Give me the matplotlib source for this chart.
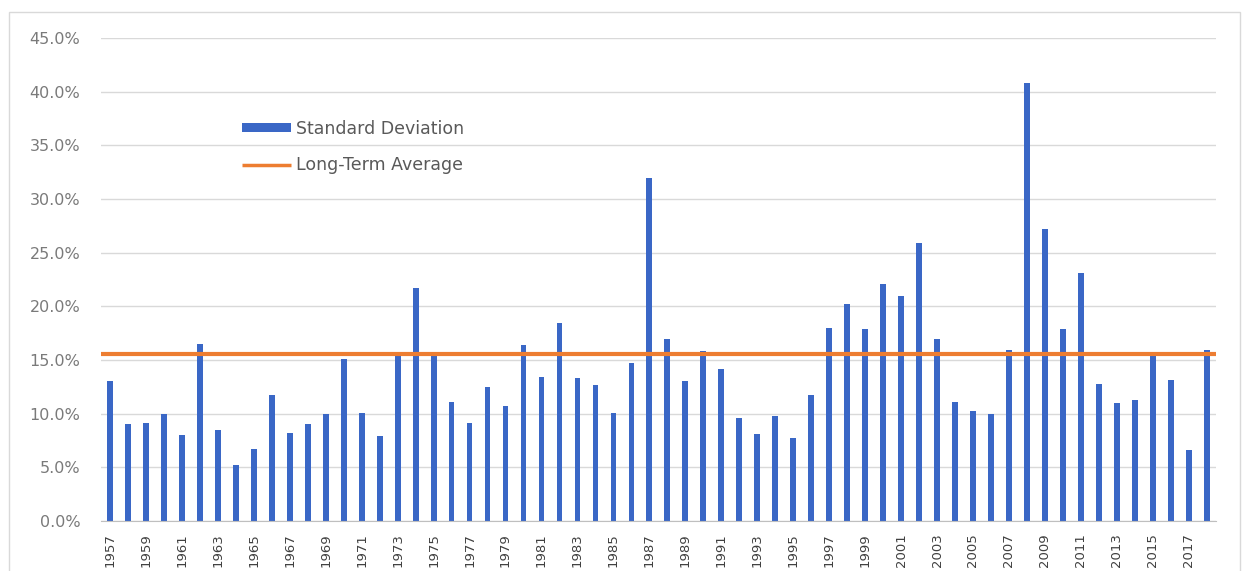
import matplotlib.pyplot as plt
import numpy as np
from matplotlib.patches import Rectangle
from matplotlib.ticker import PercentFormatter

years = list(range(1957, 2019))
std_dev = [13.0, 9.0, 9.1, 10.0, 8.0, 16.5, 8.5, 5.2, 6.7, 11.7,
           8.2, 9.0, 10.0, 15.1, 10.1, 7.9, 15.4, 21.7, 15.4, 11.1,
           9.1, 12.5, 10.7, 16.4, 13.4, 18.4, 13.3, 12.7, 10.1, 14.7,
           32.0, 17.0, 13.0, 15.8, 14.2, 9.6, 8.1, 9.8, 7.7, 11.7,
           18.0, 20.2, 17.9, 22.1, 21.0, 25.9, 17.0, 11.1, 10.2, 10.0,
           15.9, 40.8, 27.2, 17.9, 23.1, 12.8, 11.0, 11.3, 15.4, 13.1,
           6.6, 15.9]
long_term_avg = 15.6

plt.rcParams['font.family'] = ['DejaVu Sans']

fig = plt.figure(figsize=(12.43, 5.71), dpi=100)
ax = fig.add_axes([0.0813, 0.0876, 0.8967, 0.8459])

# light frame round the whole chart, like the Excel chart area
fig.patches.append(Rectangle((9 / 1243, -0.01), 1231 / 1243, 1 - 12 / 571 + 0.01,
                             transform=fig.transFigure, fill=False,
                             edgecolor='#d9d9d9', lw=1))

x = np.arange(len(years))
bars = ax.bar(x, std_dev, width=0.32, color='#3a67c6', label='Standard Deviation', zorder=2)
avg_line, = ax.plot([-0.5, len(years) - 0.5], [long_term_avg] * 2, color='#ed7d31', lw=3,
                    label='Long-Term Average', zorder=3, solid_capstyle='butt')

ax.set_xlim(-0.5, len(years) - 0.5)
ax.set_ylim(0, 45)
ax.set_yticks(np.arange(0, 46, 5))
ax.yaxis.set_major_formatter(PercentFormatter(decimals=1))
ax.set_xticks(x[::2])
ax.set_xticklabels([str(y) for y in years[::2]], rotation=90)
ax.tick_params(axis='y', length=0, labelsize=11.5, colors='#7a7a7a', pad=15)
ax.tick_params(axis='x', length=0, labelsize=9.5, colors='#404040', pad=9)

ax.grid(axis='y', color='#d9d9d9', lw=1, zorder=0)
for side in ['top', 'right', 'left']:
    ax.spines[side].set_visible(False)
ax.spines['bottom'].set_color('#bfbfbf')

leg = ax.legend(handles=[bars, avg_line], loc='upper left',
                bbox_to_anchor=(0.1265, 0.831), frameon=False,
                fontsize=12.5, handlelength=2.8, handleheight=0.4,
                handletextpad=0.3, labelspacing=1.05,
                borderaxespad=0, borderpad=0)
leg.get_lines()[0].set_linewidth(2.5) if leg.get_lines() else None
for t in leg.get_texts():
    t.set_color('#595959')

fig.savefig('out.png', dpi=100)
